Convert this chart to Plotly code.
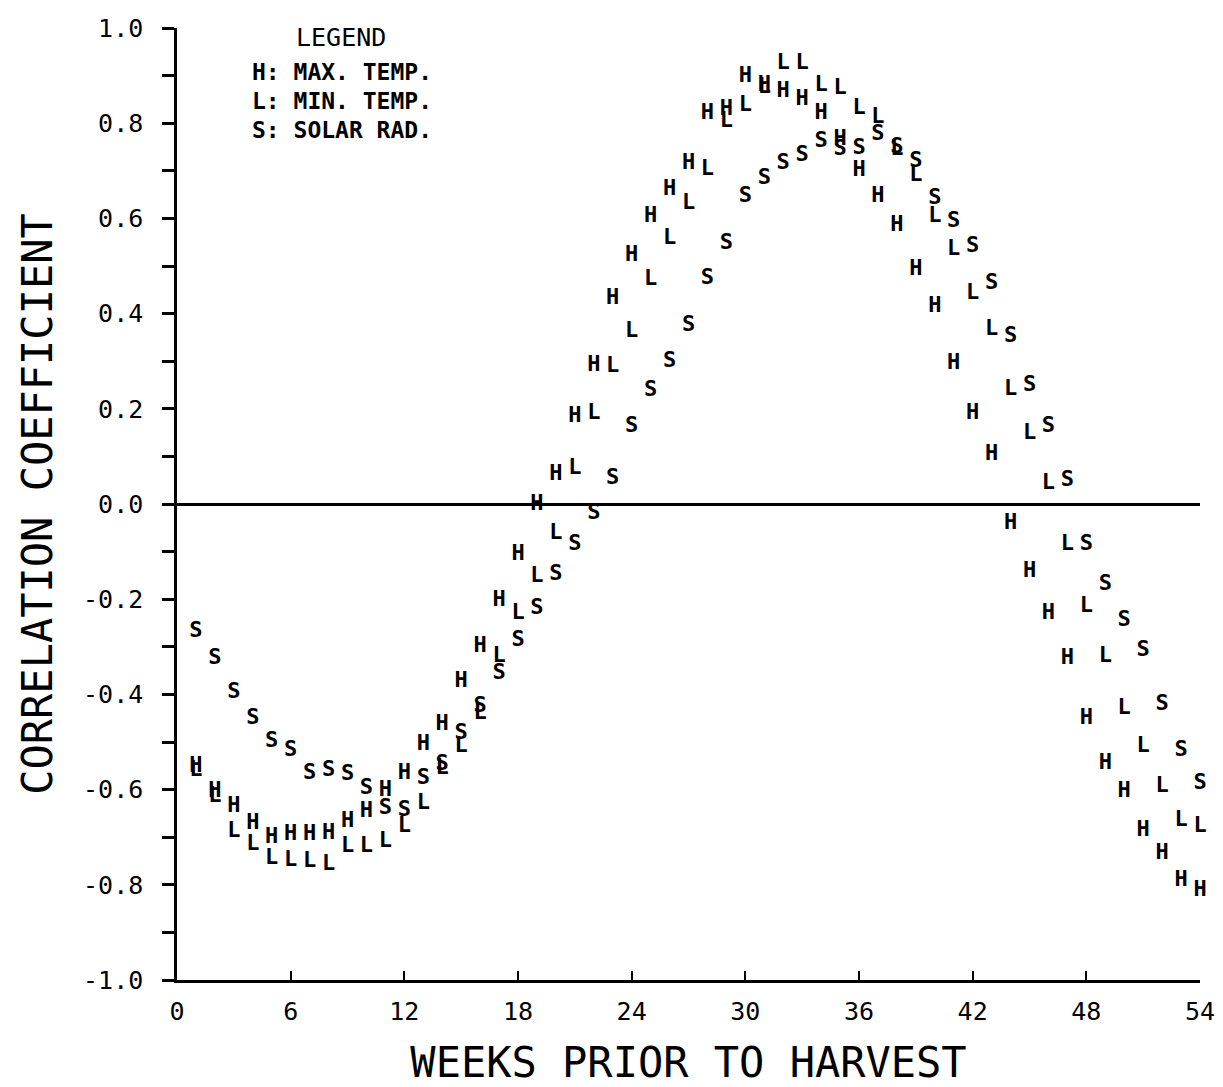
import plotly.graph_objects as go

weeks = list(range(1, 55))

max_temp = [-0.552, -0.604, -0.636, -0.671, -0.700, -0.695, -0.695, -0.692, -0.667, -0.646,
            -0.601, -0.566, -0.506, -0.464, -0.373, -0.300, -0.202, -0.107, -0.002, 0.061,
            0.183, 0.292, 0.432, 0.523, 0.604, 0.660, 0.716, 0.821, 0.828, 0.898,
            0.880, 0.866, 0.849, 0.821, 0.765, 0.700, 0.646, 0.586, 0.492, 0.414,
            0.296, 0.191, 0.103, -0.041, -0.142, -0.230, -0.324, -0.450, -0.545, -0.604,
            -0.685, -0.734, -0.790, -0.811]

min_temp = [-0.560, -0.615, -0.688, -0.715, -0.745, -0.748, -0.751, -0.758, -0.720, -0.720,
            -0.709, -0.678, -0.629, -0.555, -0.510, -0.440, -0.321, -0.230, -0.153, -0.062,
            0.075, 0.190, 0.288, 0.362, 0.471, 0.558, 0.632, 0.702, 0.803, 0.838,
            0.875, 0.926, 0.926, 0.880, 0.873, 0.831, 0.812, 0.745, 0.690, 0.604,
            0.534, 0.443, 0.366, 0.240, 0.148, 0.043, -0.086, -0.216, -0.321, -0.429,
            -0.510, -0.594, -0.664, -0.678]

solar_rad = [-0.268, -0.324, -0.397, -0.450, -0.499, -0.517, -0.566, -0.559, -0.569, -0.597,
             -0.639, -0.643, -0.576, -0.548, -0.482, -0.425, -0.356, -0.286, -0.219, -0.149,
             -0.086, -0.020, 0.054, 0.162, 0.239, 0.299, 0.376, 0.474, 0.548, 0.646,
             0.684, 0.716, 0.733, 0.761, 0.744, 0.747, 0.777, 0.750, 0.719, 0.642,
             0.593, 0.541, 0.464, 0.352, 0.248, 0.162, 0.050, -0.086, -0.170, -0.244,
             -0.307, -0.422, -0.517, -0.587]

x_tick_values = [0, 6, 12, 18, 24, 30, 36, 42, 48, 54]
y_tick_values = [-1.0, -0.8, -0.6, -0.4, -0.2, 0.0, 0.2, 0.4, 0.6, 0.8, 1.0]
y_tick_labels = ["-1.0", "-0.8", "-0.6", "-0.4", "-0.2", "0.0", "0.2", "0.4", "0.6", "0.8", "1.0"]

series = [("H", max_temp), ("L", min_temp), ("S", solar_rad)]
legend_lines = ["H: MAX. TEMP.", "L: MIN. TEMP.", "S: SOLAR RAD."]

MONO = "DejaVu Sans Mono"

fig = go.Figure()
for letter, vals in series:
    fig.add_trace(go.Scatter(
        x=weeks, y=vals, mode="text", text=[letter] * len(vals),
        textposition="middle center",
        textfont=dict(family=MONO, size=22, color="black", weight="bold"),
        showlegend=False, hoverinfo="skip", cliponaxis=False,
    ))

fig.update_layout(
    width=1223, height=1087,
    margin=dict(l=177, r=23, t=28, b=107, autoexpand=False),
    paper_bgcolor="white", plot_bgcolor="white",
    showlegend=False,
)

fig.update_xaxes(
    range=[0, 54], tickvals=x_tick_values, ticks="inside", ticklen=9,
    tickwidth=2, tickcolor="black", automargin=False,
    showline=True, linewidth=2.5, linecolor="black", mirror=False,
    showgrid=False, zeroline=False,
    tickfont=dict(family=MONO, size=25, color="black"),
    ticklabelstandoff=7,
    title=dict(text="WEEKS PRIOR TO HARVEST", font=dict(family=MONO, size=42, color="black"), standoff=24),
)

fig.update_yaxes(
    range=[-1, 1], tickvals=y_tick_values, ticktext=y_tick_labels,
    ticks="outside", ticklen=12, tickwidth=2.5, tickcolor="black", automargin=False,
    minor=dict(dtick=0.1, tick0=0, ticks="outside", ticklen=12, tickwidth=2.5, tickcolor="black", showgrid=False),
    showline=True, linewidth=2.5, linecolor="black", mirror=False,
    showgrid=False, zeroline=True, zerolinecolor="black", zerolinewidth=2.5,
    tickfont=dict(family=MONO, size=25, color="black"),
    ticklabelstandoff=14,
    title=dict(text="CORRELATION COEFFICIENT", font=dict(family=MONO, size=42, color="black"), standoff=18),
)

fig.add_annotation(x=8.66, y=0.981, xref="x", yref="y", text="LEGEND", showarrow=False,
                   font=dict(family=MONO, size=25, color="black"), xanchor="center", yanchor="middle")
for i, line in enumerate(legend_lines):
    fig.add_annotation(x=3.85, y=0.908 - i * 0.061, xref="x", yref="y", text=line, showarrow=False,
                       font=dict(family=MONO, size=23, color="black", weight="bold"),
                       xanchor="left", yanchor="middle")

fig.write_html("out.html")
